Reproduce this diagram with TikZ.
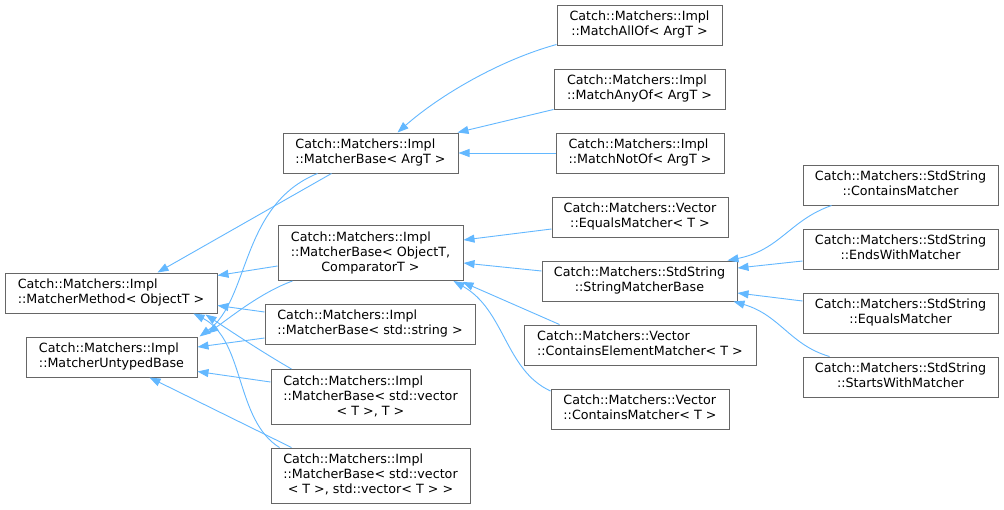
\documentclass[tikz,border=0pt]{standalone}
\usepackage{fontspec}
\setmainfont{DejaVu Sans}
\usetikzlibrary{arrows.meta,calc}
\definecolor{boxgray}{HTML}{666666}
\definecolor{edgeblue}{HTML}{63B8FF}
\newcommand{\labtwo}[2]{\begin{tabular}{@{}l@{}}#1\\\multicolumn{1}{@{}c@{}}{#2}\end{tabular}}
\newcommand{\labthree}[3]{\begin{tabular}{@{}l@{}}#1\\#2\\\multicolumn{1}{@{}c@{}}{#3}\end{tabular}}
\newcommand{\lbfont}{\fontsize{12.7}{15}\selectfont}
\begin{document}
\begin{tikzpicture}[x=1pt,y=-1pt,
  box/.style={draw=boxgray, line width=1pt, fill=white, inner sep=0pt, font=\lbfont, minimum height=40pt},
  tall/.style={minimum height=55pt},
  edge/.style={draw=edgeblue, line width=0.9pt, -{Triangle[length=11pt,width=8pt]}}]
\useasboundingbox[fill=white] (0,0) rectangle (1004,509);

% left column
\node[box, minimum width=212pt] (mm) at (111,293) {\labtwo{Catch::Matchers::Impl}{::MatcherMethod< ObjectT >}};
\node[box, minimum width=171pt] (mub) at (111.5,357) {\labtwo{Catch::Matchers::Impl}{::MatcherUntypedBase}};

% second column
\node[box, minimum width=175pt] (mba) at (370.5,153) {\labtwo{Catch::Matchers::Impl}{::MatcherBase< ArgT >}};
\node[box, tall, minimum width=185pt] (mbo) at (370.5,253) {\labthree{Catch::Matchers::Impl}{::MatcherBase< ObjectT,}{ComparatorT >}};
\node[box, minimum width=210pt] (mbs) at (370,324) {\labtwo{Catch::Matchers::Impl}{::MatcherBase< std::string >}};
\node[box, tall, minimum width=199pt] (mbv1) at (370.5,397) {\labthree{Catch::Matchers::Impl}{::MatcherBase< std::vector}{< T >, T >}};
\node[box, tall, minimum width=199pt] (mbv2) at (370.5,475.5) {\labthree{Catch::Matchers::Impl}{::MatcherBase< std::vector}{< T >, std::vector< T > >}};

% third column
\node[box, minimum width=165pt] (allof) at (639.5,25) {\labtwo{Catch::Matchers::Impl}{::MatchAllOf< ArgT >}};
\node[box, minimum width=171pt] (anyof) at (639.5,89) {\labtwo{Catch::Matchers::Impl}{::MatchAnyOf< ArgT >}};
\node[box, minimum width=168pt] (notof) at (640,153) {\labtwo{Catch::Matchers::Impl}{::MatchNotOf< ArgT >}};
\node[box, minimum width=176pt] (vem) at (640,217) {\labtwo{Catch::Matchers::Vector}{::EqualsMatcher< T >}};
\node[box, minimum width=195pt] (smb) at (639.5,281) {\labtwo{Catch::Matchers::StdString}{::StringMatcherBase}};
\node[box, minimum width=232pt] (cem) at (640,345) {\labtwo{Catch::Matchers::Vector}{::ContainsElementMatcher< T >}};
\node[box, minimum width=178pt] (vcm) at (640,409) {\labtwo{Catch::Matchers::Vector}{::ContainsMatcher< T >}};

% fourth column
\node[box, minimum width=195pt] (sc) at (900.5,185) {\labtwo{Catch::Matchers::StdString}{::ContainsMatcher}};
\node[box, minimum width=195pt] (sew) at (900.5,249) {\labtwo{Catch::Matchers::StdString}{::EndsWithMatcher}};
\node[box, minimum width=195pt] (seq) at (900.5,313) {\labtwo{Catch::Matchers::StdString}{::EqualsMatcher}};
\node[box, minimum width=195pt] (ssw) at (900.5,377) {\labtwo{Catch::Matchers::StdString}{::StartsWithMatcher}};

% edges to MatcherMethod / MatcherUntypedBase
\draw[edge] ($(mba.south west)+(49,0)$) -- ($(mm.north west)+(153,0)$);
\draw[edge] ($(mba.south west)+(35,0)$) .. controls (240,205) and (250,300) .. ($(mub.north east)+(2,0)$);
\draw[edge] ($(mbo.west)+(0,13)$) -- ($(mm.north east)+(0,3)$);
\draw[edge] ($(mbo.south west)+(15,0)$) .. controls (262,292) and (232,316) .. ($(mub.north east)+(10,-3)$);
\draw[edge] ($(mbs.west)+(0,-12)$) -- ($(mm.south east)+(0,-8)$);
\draw[edge] ($(mbs.west)+(0,14)$) -- ($(mub.east)+(0,-10)$);
\draw[edge] ($(mbv1.north west)+(21,0)$) .. controls (262,352) and (232,332) .. ($(mm.south east)+(-12,1)$);
\draw[edge] ($(mbv1.west)+(0,-15)$) -- ($(mub.south east)+(0,-6)$);
\draw[edge] ($(mbv2.north west)+(9,0)$) .. controls (235,420) and (245,340) .. ($(mm.south east)+(-24,0)$);
\draw[edge] ($(mbv2.north west)+(21,0)$) -- ($(mub.south west)+(124,0)$);

% edges to MatcherBase< ArgT >
\draw[edge] ($(allof.south west)+(0,-1)$) .. controls (500,60) and (440,95) .. ($(mba.north west)+(115,0)$);
\draw[edge] ($(anyof.south west)+(0,0)$) -- ($(mba.north east)+(-1,0)$);
\draw[edge] (notof.west) -- (mba.east);

% edges to MatcherBase< ObjectT, ComparatorT >
\draw[edge] ($(vem.west)+(0,12)$) -- ($(mbo.east)+(0,-13)$);
\draw[edge] ($(smb.west)+(0,-10)$) -- ($(mbo.east)+(0,10)$);
\draw[edge] ($(cem.north west)+(36,0)$) -- ($(mbo.south east)+(-1,1)$);
\draw[edge] ($(vcm.west)+(0,-18)$) .. controls (505,370) and (505,310) .. ($(mbo.south east)+(-10,0)$);

% edges to StringMatcherBase
\draw[edge] ($(sc.south west)+(29,0)$) .. controls (790,220) and (780,250) .. ($(smb.north east)+(-10,0)$);
\draw[edge] ($(sew.west)+(0,12)$) -- ($(smb.east)+(0,-13)$);
\draw[edge] ($(seq.west)+(0,-12)$) -- ($(smb.east)+(0,12)$);
\draw[edge] ($(ssw.north west)+(27,0)$) .. controls (790,345) and (780,315) .. ($(smb.south east)+(-4,0)$);
\end{tikzpicture}
\end{document}
